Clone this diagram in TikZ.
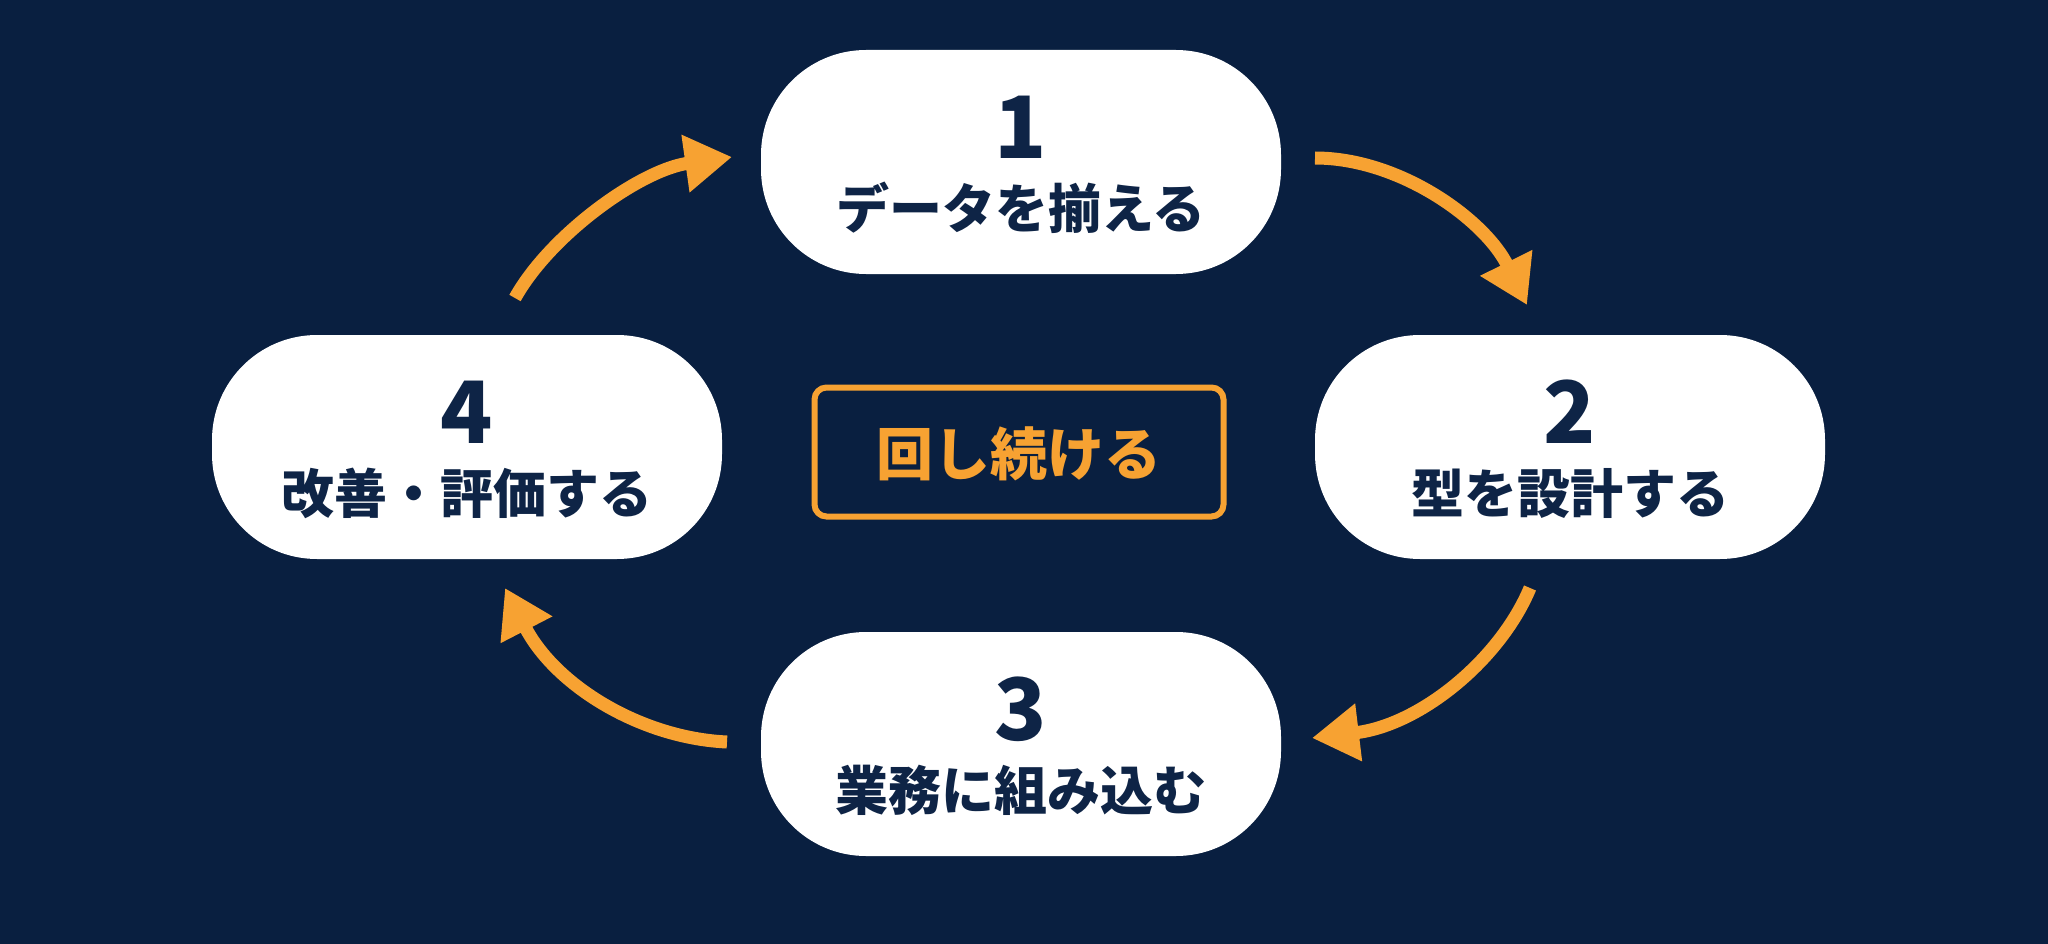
\documentclass[tikz,border=0pt]{standalone}
\usepackage{fontspec}
\newfontfamily\jp{Noto Sans CJK JP}
\usetikzlibrary{arrows.meta}
\definecolor{bg}{RGB}{9,31,64}
\definecolor{org}{RGB}{247,162,50}
\definecolor{navy}{RGB}{14,36,70}
\begin{document}
\begin{tikzpicture}[x=1pt,y=-1pt,
  stepbox/.style={fill=white, rounded corners=105pt, minimum height=224pt, inner sep=0pt},
  numtxt/.style={text=navy, font=\jp\bfseries\fontsize{86}{90}\selectfont, inner sep=0pt},
  labtxt/.style={text=navy, font=\jp\bfseries\fontsize{53}{60}\selectfont, inner sep=0pt},
  flow/.style={draw=org, line width=13pt, -{Triangle[length=47pt,width=55pt]}},
  centerbox/.style={draw=org, line width=6pt, rounded corners=12pt, minimum width=409pt, minimum height=129pt, inner sep=0pt},
  centertxt/.style={text=org, font=\jp\bfseries\fontsize{57}{64}\selectfont, inner sep=0pt}
]
\fill[bg] (0,0) rectangle (2048,944);
\useasboundingbox (0,0) rectangle (2048,944);

% step 1
\node[stepbox, minimum width=520pt] (n1) at (1021,162) {};
\node[numtxt] (n1num) at (1021,127) {1};
\node[labtxt] (n1lab) at (1021,208) {データを揃える};
% step 2
\node[stepbox, minimum width=510pt] (n2) at (1570,447) {};
\node[numtxt] (n2num) at (1570,412) {2};
\node[labtxt] (n2lab) at (1570,493) {型を設計する};
% step 3
\node[stepbox, minimum width=520pt] (n3) at (1021,744) {};
\node[numtxt] (n3num) at (1021,709) {3};
\node[labtxt] (n3lab) at (1021,790) {業務に組み込む};
% step 4
\node[stepbox, minimum width=510pt] (n4) at (467,447) {};
\node[numtxt] (n4num) at (467,412) {4};
\node[labtxt] (n4lab) at (467,493) {改善・評価する};

% center
\node[centerbox] (c) at (1019,452) {};
\node[centertxt] (ctxt) at (1019,454) {回し続ける};

% arrows
\coordinate (a1s) at (515,298); \coordinate (a1e) at (732,157);
\coordinate (a2s) at (1315,158); \coordinate (a2e) at (1527,305);
\coordinate (a3s) at (1530,588); \coordinate (a3e) at (1312,738);
\coordinate (a4s) at (727,742); \coordinate (a4e) at (505,588);
\draw[flow] (a1s) .. controls (550,235) and (640,170) .. (a1e);
\draw[flow] (a2s) .. controls (1400,158) and (1485,220) .. (a2e);
\draw[flow] (a3s) .. controls (1500,660) and (1420,725) .. (a3e);
\draw[flow] (a4s) .. controls (640,738) and (555,685) .. (a4e);
\end{tikzpicture}
\end{document}
